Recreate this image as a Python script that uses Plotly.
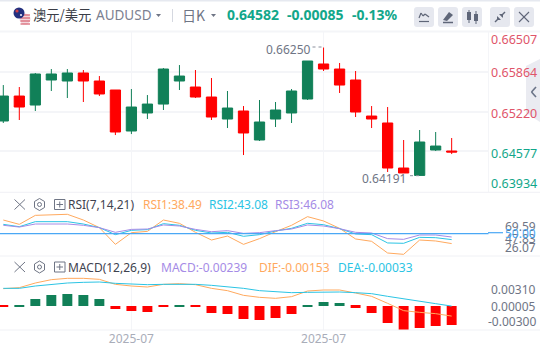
import plotly.graph_objects as go

# ---------- data ----------
idx = list(range(29))
opens = [0.65067,0.65469,0.65324,0.65727,0.65711,0.65840,0.65711,0.65566,0.64906,0.65196,0.65340,0.65711,0.65614,0.65453,0.65099,0.65228,0.64761,
         0.65099,0.65196,0.65421,0.65985,0.65904,0.65727,0.65147,0.65035,0.64310,0.64191,0.64600,0.64584]
closes = [0.65469,0.65292,0.65824,0.65824,0.65840,0.65711,0.65502,0.64890,0.65292,0.65340,0.65904,0.65791,0.65453,0.65131,0.65276,0.64874,0.65051,
          0.65244,0.65550,0.66033,0.65904,0.65646,0.65212,0.65099,0.64310,0.64230,0.64729,0.64664,0.64568]
highs = [0.65646,0.65614,0.65840,0.65904,0.65904,0.65888,0.65791,0.65566,0.65582,0.65485,0.65920,0.65968,0.65888,0.65759,0.65550,0.65308,0.65405,
         0.65373,0.65582,0.66033,0.66250,0.66001,0.65872,0.65308,0.65292,0.64761,0.64922,0.64890,0.64793]
lows = [0.65035,0.65083,0.65228,0.65550,0.65437,0.65373,0.65469,0.64841,0.64857,0.65099,0.65244,0.65566,0.65437,0.65083,0.64954,0.64519,0.64745,
        0.64970,0.65035,0.65405,0.65872,0.65518,0.65131,0.64954,0.64246,0.64230,0.64191,0.64584,0.64535]

rsi1 = [65.7,60.7,71.1,71.5,72.3,65.7,56.9,37.6,51.1,52.6,65.7,61.9,51.5,42.6,47.2,37.6,44.2,52.2,59.6,69.59,64.6,56.1,43.8,41.1,27.6,26.07,42.6,41.5,38.49]
rsi2 = [60.7,58.0,63.8,63.8,63.8,61.1,56.9,48.8,53.8,54.6,61.5,59.6,53.8,50.7,51.5,46.9,48.8,53.0,56.1,61.9,60.3,55.7,49.6,48.8,39.2,38.8,45.7,45.3,43.08]
rsi3 = [59.6,57.6,61.1,61.1,61.1,59.6,56.9,51.5,54.9,55.3,60.0,58.8,54.9,52.2,53.4,50.3,51.1,53.4,55.3,60.0,58.8,55.7,51.5,50.7,44.2,43.4,48.4,48.4,46.08]
rsi_mid = [50.0, 50.0]

macd_hist = [-0.00008,-0.00008,0.00088,0.00138,0.00151,0.00138,0.00088,-0.00038,-0.00063,-0.00075,-0.00008,-0.00008,-0.00008,-0.00088,-0.00101,-0.00163,-0.00176,
             -0.00151,-0.00101,-0.00008,0.00050,0.00038,-0.00025,-0.00088,-0.00214,-0.00302,-0.00277,-0.00251,-0.00239]
hist_up = [0,1,1,1,1,1,1,0,0,0,0,1,0,0,0,0,0,0,0,1,1,1,0,0,0,0,0,0,0]
dif = [0.00176,0.00188,0.00244,0.00284,0.00300,0.00300,0.00288,0.00228,0.00208,0.00196,0.00228,0.00236,0.00224,0.00180,0.00152,0.00096,0.00072,
       0.00060,0.00080,0.00148,0.00160,0.00160,0.00124,0.00084,0.0,-0.00088,-0.00108,-0.00124,-0.00153]
dea = [0.00180,0.00180,0.00208,0.00228,0.00244,0.00252,0.00256,0.00240,0.00232,0.00224,0.00228,0.00232,0.00228,0.00216,0.00200,0.00180,0.00152,
       0.00144,0.00128,0.00132,0.00136,0.00136,0.00128,0.00116,0.00084,0.00052,0.00024,-0.00004,-0.00033]

x_tick_pos = [8, 20]
x_tick_text = ["2025-07", "2025-07"]
price_grid = [0.65864, 0.65220, 0.64577]

# ---------- styles ----------
W, H = 540, 351
GREEN, RED = "#118058", "#ff0000"
ORANGE, CYAN, PURPLE, BLUE = "#ffa95e", "#2bc4e4", "#a58be6", "#4aa8f5"
GRID = "#f4f5f8"
GRAY = "#6f7585"
UPTXT, DNTXT = "#12a78a", "#e0556a"
FONT = "Noto Sans, Noto Sans CJK SC, sans-serif"
CJK = "Noto Sans CJK SC, Noto Sans, sans-serif"

def px(x): return x / W
def py(y): return 1 - y / H

fig = go.Figure()
fig.add_trace(go.Candlestick(x=idx, open=opens, high=highs, low=lows, close=closes,
    increasing=dict(line=dict(color=GREEN, width=1), fillcolor=GREEN),
    decreasing=dict(line=dict(color=RED, width=1), fillcolor=RED),
    whiskerwidth=0, xaxis="x", yaxis="y", showlegend=False))
for vals, c in ((rsi1, ORANGE), (rsi2, CYAN), (rsi3, PURPLE)):
    fig.add_trace(go.Scatter(x=idx, y=vals, mode="lines", line=dict(color=c, width=1), xaxis="x", yaxis="y2", showlegend=False))
fig.add_trace(go.Scatter(x=[-1, 31], y=rsi_mid, mode="lines", line=dict(color=BLUE, width=1.2), xaxis="x", yaxis="y2", showlegend=False))
fig.add_trace(go.Bar(x=idx, y=macd_hist, width=0.62, marker=dict(color=[GREEN if u else RED for u in hist_up], line=dict(width=0)),
                     xaxis="x", yaxis="y3", showlegend=False))
for vals, c in ((dif, ORANGE), (dea, CYAN)):
    fig.add_trace(go.Scatter(x=idx, y=vals, mode="lines", line=dict(color=c, width=1), xaxis="x", yaxis="y4", showlegend=False))

shapes, annos = [], []
def line(x0, y0, x1, y1, color, w=1, dash=None):
    shapes.append(dict(type="line", xref="paper", yref="paper", x0=px(x0), x1=px(x1), y0=py(y0), y1=py(y1),
                       line=dict(color=color, width=w, dash=dash) if dash else dict(color=color, width=w)))
def rect(x0, y0, x1, y1, fill, lc=None, w=0):
    shapes.append(dict(type="rect", xref="paper", yref="paper", x0=px(x0), x1=px(x1), y0=py(y0), y1=py(y1),
                       fillcolor=fill, line=dict(color=lc or fill, width=w)))
def circle(cx, cy, r, fill, lc=None, w=0):
    shapes.append(dict(type="circle", xref="paper", yref="paper", x0=px(cx-r), x1=px(cx+r), y0=py(cy-r), y1=py(cy+r),
                       fillcolor=fill, line=dict(color=lc or fill, width=w)))
def poly(pts, fill, lc=None, w=0):
    p = "M" + " L".join(f"{px(a):.5f},{py(b):.5f}" for a, b in pts) + " Z"
    shapes.append(dict(type="path", xref="paper", yref="paper", path=p, fillcolor=fill, line=dict(color=lc or fill, width=w)))
def txt(x, y, s, color, size=12, anchor="left", font=FONT):
    annos.append(dict(xref="paper", yref="paper", x=px(x), y=py(y), text=s, showarrow=False, xanchor=anchor, yanchor="middle",
                      font=dict(family=font, size=size, color=color), borderpad=0, borderwidth=0))

# frame lines
rect(0, 0, 540, 1.5, "#e6e9f0")
line(0, 31.5, 540, 31.5, GRID, 2)
line(488.5, 32, 488.5, 192, GRID, 1)
line(0, 192.3, 540, 192.3, "#f0f1f5", 1)
line(0, 256, 540, 256, "#f0f1f5", 1)
line(0, 330, 540, 330, "#f0f1f5", 1)

# flag
circle(25, 19, 5.5, "#f3d6dc")
for yy in (15, 18, 21, 24):
    line(20.5, yy, 30, yy, "#d8606e", 1.2)
circle(19, 13, 5.5, "#23307f")
circle(17, 11, 1.6, "#d0404a")
circle(21, 15, 1.1, "#e8e8f4")
# header texts
txt(33, 15, "澳元/美元", "#3a3d46", 13.3, font=CJK)
txt(96, 15.5, "AUDUSD", "#7b8090", 13.5)
poly([(156, 14), (161, 14), (158.5, 17)], "#6f7585")
line(172.5, 9, 172.5, 22, "#d5d8e0", 1)
txt(182, 15, "日K", "#6f7585", 14, font=CJK)
poly([(211, 14), (216, 14), (213.5, 17)], "#6f7585")
txt(227, 14.5, "<b>0.64582</b>", UPTXT, 14)
txt(287, 14.5, "<b>-0.00085</b>", UPTXT, 14)
txt(352, 14.5, "<b>-0.13%</b>", UPTXT, 14)

# toolbar buttons
for bx in (414, 438, 462, 490, 514):
    x0, x1, y0, y1 = bx, bx + 20, 7, 27
    r = 3
    shapes.append(dict(type="path", xref="paper", yref="paper", fillcolor="#e6e8ef", line=dict(color="#e6e8ef", width=0),
        path=f"M{px(x0+r)},{py(y0)} L{px(x1-r)},{py(y0)} Q{px(x1)},{py(y0)} {px(x1)},{py(y0+r)} L{px(x1)},{py(y1-r)} Q{px(x1)},{py(y1)} {px(x1-r)},{py(y1)} "
             f"L{px(x0+r)},{py(y1)} Q{px(x0)},{py(y1)} {px(x0)},{py(y1-r)} L{px(x0)},{py(y0+r)} Q{px(x0)},{py(y0)} {px(x0+r)},{py(y0)} Z"))
IC = "#5f6678"
for a, b, c, d in ((419, 18, 421, 13), (421, 13, 423, 16), (423, 16, 425, 14), (425, 14, 429, 17), (419, 21.5, 429, 21.5)):
    line(a, b, c, d, IC, 1.2)
poly([(443, 20), (449, 12), (453, 15), (447, 21)], IC)
line(443, 22.5, 453, 22.5, IC, 1.5)
rect(467, 12, 471, 20, IC); line(469, 10, 469, 23, IC, 1)
rect(474, 14, 478, 21, IC); line(476, 11, 476, 24, IC, 1)
line(495, 22, 499, 18, IC, 1.4); line(501, 16, 505, 12, IC, 1.4)
poly([(497, 16), (501, 20), (497, 20)], IC); poly([(499, 14), (503, 14), (503, 18)], IC)
line(519, 12, 529, 22, IC, 1.1); line(529, 12, 519, 22, IC, 1.1)

# side handle
poly([(526, 66), (540, 59), (540, 122), (526, 113)], "#eaebf1")
line(536, 87, 531.5, 92, "#6b7488", 1.6); line(531.5, 92, 536, 97, "#6b7488", 1.6)

# price labels
for y, s, c in ((39, "0.66507", DNTXT), (72.5, "0.65864", DNTXT), (113, "0.65220", DNTXT), (153, "0.64577", UPTXT), (183, "0.63934", UPTXT)):
    txt(537, y, s, c, 12.5, "right")
# extreme labels
txt(311, 49.5, "0.66250", "#6f7585", 12, "right")
line(312.5, 47, 323, 47, "#8a8f9c", 1, "dot")
txt(406, 178.5, "0.64191", "#6f7585", 12, "right")
line(410, 175.7, 420, 175.7, "#8a8f9c", 1, "dot")

# indicator headers
def header(y):
    line(14.5, y-5, 25, y+5, "#6f7585", 1); line(25, y-5, 14.5, y+5, "#6f7585", 1)
    poly([(39.5, y-6), (44.5, y-3), (44.5, y+3), (39.5, y+6), (34.5, y+3), (34.5, y-3)], "rgba(0,0,0,0)", "#6f7585", 1)
    circle(39.5, y, 2, "rgba(0,0,0,0)", "#6f7585", 1)
    rect(54.5, y-5, 65, y+5, "rgba(0,0,0,0)", "#6f7585", 1)
    line(56.5, y, 63, y, "#6f7585", 1); line(59.75, y-3, 59.75, y+3, "#6f7585", 1)
header(204.5); header(267)
txt(68, 204.5, "RSI(7,14,21)", "#3f4350", 12)
txt(143, 204.5, "RSI1:38.49", ORANGE, 12)
txt(209, 204.5, "RSI2:43.08", CYAN, 12)
txt(275, 204.5, "RSI3:46.08", PURPLE, 12)
txt(68, 267, "MACD(12,26,9)", "#3f4350", 12)
txt(161, 267, "MACD:-0.00239", PURPLE, 12)
txt(259, 267, "DIF:-0.00153", ORANGE, 12)
txt(338, 267, "DEA:-0.00033", CYAN, 12)

line(488, 232.7, 503, 232.7, BLUE, 1.2)
for y, s, c in ((226, "69.59", "#6f7585"), (238, "47.83", "#6f7585"), (247.5, "26.07", "#6f7585"), (233, "50.00", BLUE)):
    txt(536, y, s, c, 12, "right")
for y, s in ((289.5, "0.00310"), (306, "0.00005"), (321.5, "-0.00300")):
    txt(536, y, s, "#6f7585", 12, "right")

layout_x = dict(domain=[0, 488.5 / W], range=[-0.206, 30.3], anchor="y3", tickvals=x_tick_pos, ticktext=x_tick_text,
                showgrid=True, gridcolor=GRID, gridwidth=1, showline=False, zeroline=False, ticks="",
                tickfont=dict(family=FONT, size=12, color="#a9adb9"), rangeslider=dict(visible=False))
fig.update_layout(
    width=W, height=H, margin=dict(l=0, r=0, t=0, b=0), paper_bgcolor="white", plot_bgcolor="white",
    showlegend=False, barmode="overlay", boxmode="overlay", boxgap=0.36, boxgroupgap=0, font=dict(family=FONT),
    xaxis=layout_x,
    yaxis=dict(domain=[py(192), py(32)], range=[0.63924, 0.66500], anchor="x", side="right", tickvals=price_grid,
               showticklabels=False, gridcolor=GRID, gridwidth=1.5, zeroline=False, ticks=""),
    yaxis2=dict(domain=[py(256), py(192)], range=[24.14, 98.08], anchor="x", side="right", showticklabels=False, showgrid=False, zeroline=False, ticks=""),
    yaxis3=dict(domain=[py(330), py(256)], range=[-0.00302, 0.00628], anchor="x", side="right", showticklabels=False, showgrid=False, zeroline=False, ticks=""),
    yaxis4=dict(domain=[py(330), py(256)], range=[-0.0032, 0.00568], anchor="x", overlaying="y3", side="right", showticklabels=False, showgrid=False, zeroline=False, ticks=""),
    shapes=shapes, annotations=annos,
)
fig.write_html("out.html", post_script="document.body.style.margin='0';document.body.style.overflow='hidden';", config={"displayModeBar": False})
